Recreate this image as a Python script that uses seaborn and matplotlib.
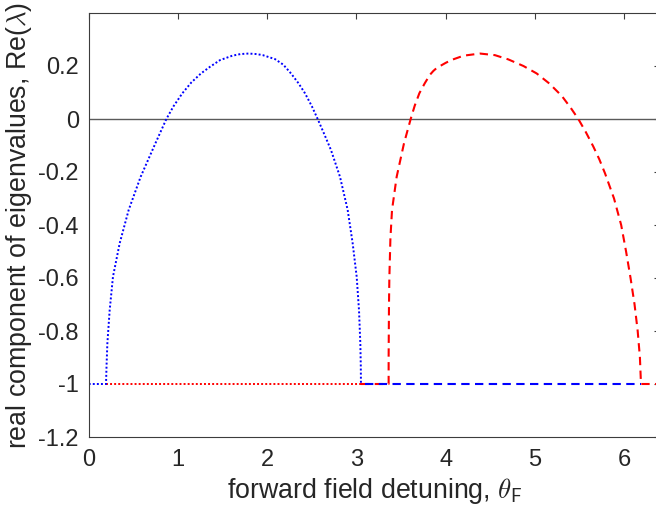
import matplotlib
matplotlib.use("Agg")
import matplotlib.pyplot as plt
import numpy as np
import pandas as pd
import seaborn as sns

# Upper eigenvalue branch for the first detuning window (dotted blue)
theta_blue = [0.0, 0.194, 0.200, 0.209, 0.235, 0.272, 0.347, 0.448, 0.582, 0.747,
              0.870, 0.95, 1.049, 1.15, 1.258, 1.359, 1.47, 1.61, 1.70, 1.79,
              1.88, 1.95, 2.087, 2.18, 2.266, 2.35, 2.423, 2.50, 2.565, 2.64,
              2.714, 2.815, 2.901, 2.957, 3.002, 3.028, 3.043, 3.048, 3.050]
re_blue = [-1.0, -1.0, -0.93, -0.847, -0.721, -0.595, -0.469, -0.343, -0.218, -0.092,
           0.0, 0.048, 0.097, 0.138, 0.172, 0.197, 0.222, 0.239, 0.245, 0.247,
           0.245, 0.241, 0.226, 0.205, 0.172, 0.135, 0.097, 0.048, 0.0, -0.058,
           -0.117, -0.218, -0.343, -0.469, -0.595, -0.721, -0.847, -0.93, -1.0]

# Lower branch for the first window (dotted red)
theta_red_low = [0.194, 3.050]
re_red_low = [-1.0, -1.0]

# Upper branch for the second detuning window (dashed red)
theta_red = [3.050, 3.360, 3.360, 3.362, 3.364, 3.368, 3.380, 3.398, 3.450, 3.532,
             3.607, 3.652, 3.704, 3.765, 3.823, 3.860, 3.900, 4.000, 4.066, 4.200,
             4.383, 4.550, 4.700, 4.870, 5.018, 5.160, 5.300, 5.400, 5.485, 5.570,
             5.653, 5.720, 5.784, 5.885, 5.965, 6.020, 6.070, 6.115, 6.150, 6.175,
             6.187, 6.40]
re_red = [-1.0, -1.0, -0.9, -0.8, -0.7, -0.6, -0.45, -0.343, -0.218, -0.092,
          0.0, 0.050, 0.097, 0.135, 0.167, 0.181, 0.193, 0.212, 0.223, 0.239,
          0.247, 0.241, 0.225, 0.200, 0.172, 0.134, 0.087, 0.042, 0.0, -0.050,
          -0.104, -0.152, -0.205, -0.300, -0.400, -0.500, -0.600, -0.700, -0.800, -0.900,
          -1.0, -1.0]

# Lower branch for the second window (dashed blue)
theta_blue_low = [3.10, 6.187]
re_blue_low = [-1.0, -1.0]

x_ticks = [0, 1, 2, 3, 4, 5, 6]
y_ticks = [-1.2, -1.0, -0.8, -0.6, -0.4, -0.2, 0.0, 0.2]
y_tick_labels = ["-1.2", "-1", "-0.8", "-0.6", "-0.4", "-0.2", "0", "0.2"]
x_limits = (0, 6.4)
y_limits = (-1.2, 0.4)

sns.set_theme(style="white")
plt.rcParams["font.family"] = ["Liberation Sans", "DejaVu Sans"]
plt.rcParams["mathtext.fontset"] = "cm"

fig = plt.figure(figsize=(6.56, 5.22), dpi=100)
ax = fig.add_axes([88.7 / 656, 85 / 522, 571.3 / 656, 424 / 522])

axis_grey = "#3c3c3c"
ax.axhline(0, color="#5a5a5a", lw=1.0, zorder=1)

dot = (0, (1, 1.1))
dash = (0, (4, 2.6))

sns.lineplot(x=theta_red_low, y=re_red_low, sort=False, estimator=None,
             color="red", linestyle=dot, lw=1.4, ax=ax)
sns.lineplot(x=theta_blue, y=re_blue, sort=False, estimator=None,
             color="blue", linestyle=dot, lw=1.4, ax=ax)
sns.lineplot(x=theta_red, y=re_red, sort=False, estimator=None,
             color="red", linestyle=dash, lw=1.5, ax=ax)
sns.lineplot(x=theta_blue_low, y=re_blue_low, sort=False, estimator=None,
             color="blue", linestyle=dash, lw=1.5, ax=ax)

ax.set_xlim(*x_limits)
ax.set_ylim(*y_limits)
ax.set_xticks(x_ticks)
ax.set_xticklabels([str(t) for t in x_ticks])
ax.set_yticks(y_ticks)
ax.set_yticklabels(y_tick_labels)

for side in ["left", "right", "top", "bottom"]:
    ax.spines[side].set_visible(True)
    ax.spines[side].set_color(axis_grey)
    ax.spines[side].set_linewidth(0.8)

ax.tick_params(axis="both", which="major", direction="in", length=4,
               width=0.8, color=axis_grey, labelcolor="#262626",
               labelsize=17, top=True, right=True)
ax.tick_params(axis="x", pad=9)
ax.tick_params(axis="y", pad=7)

ax.set_xlabel(r"forward field detuning, $\theta_{\mathsf{F}}$", fontsize=19.3,
              color="#262626", labelpad=3)
ax.set_ylabel(r"real component of eigenvalues, Re($\lambda$)", fontsize=19.3,
              color="#262626", labelpad=3)

fig.savefig("out.png", dpi=100)
